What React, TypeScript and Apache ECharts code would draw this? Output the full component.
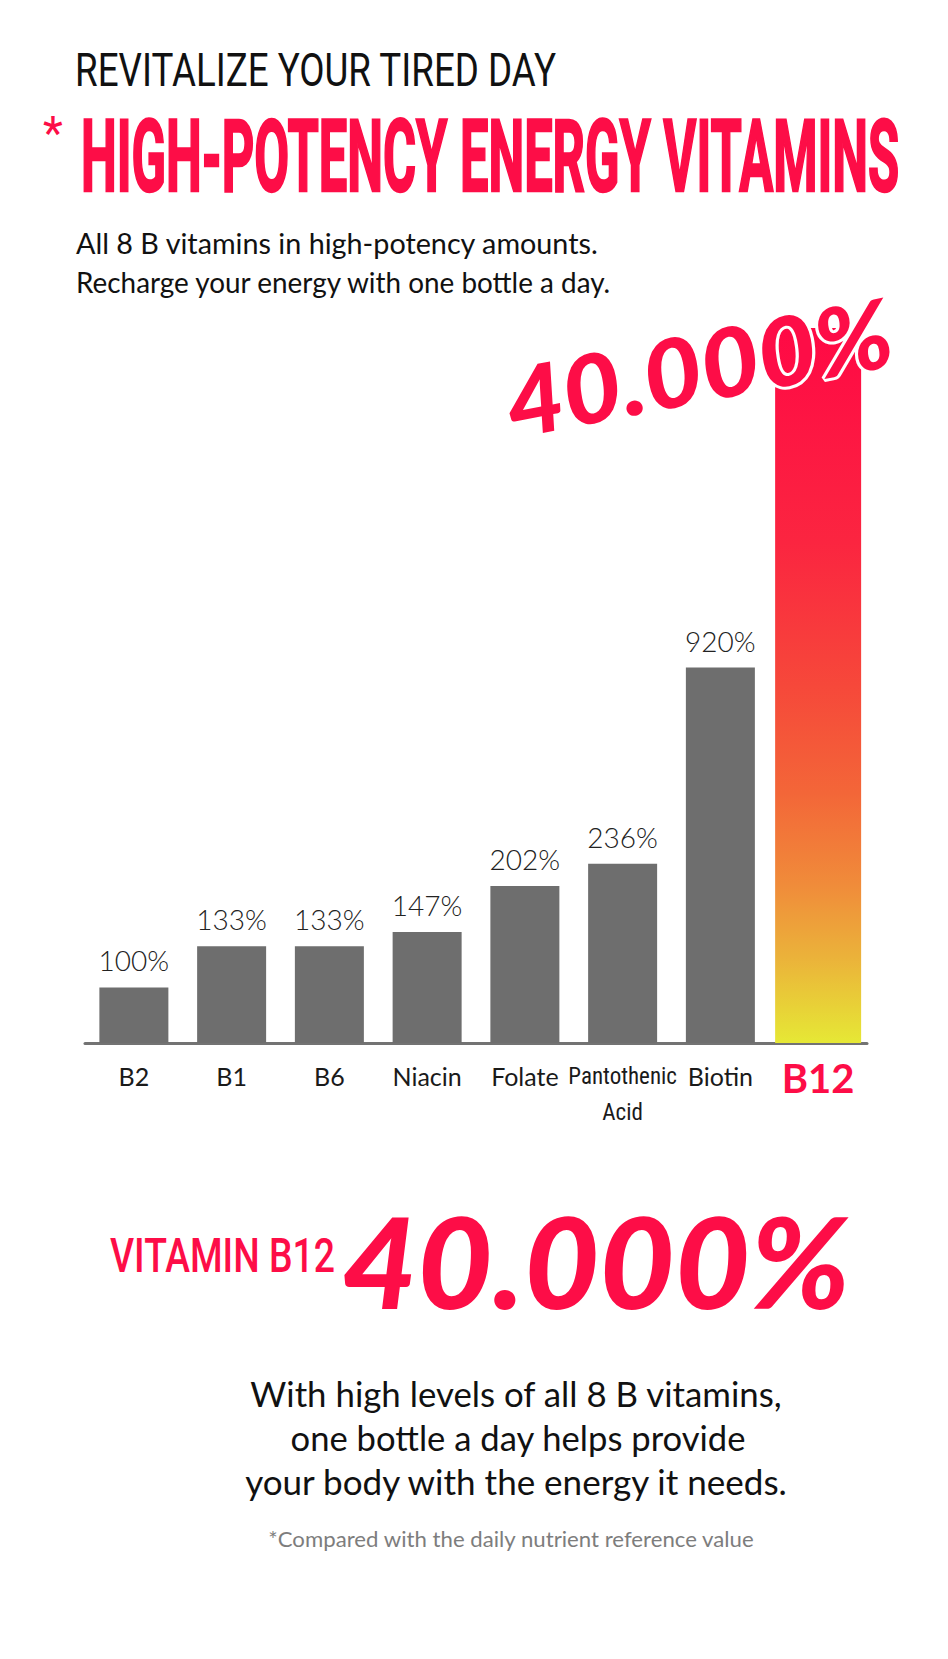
import React, { useEffect, useRef } from 'react';
import * as echarts from 'echarts';

// ---------- data ----------
const categories = ['B2', 'B1', 'B6', 'Niacin', 'Folate', 'Pantothenic\nAcid', 'Biotin', 'B12'];
const percentValues = [100, 133, 133, 147, 202, 236, 920, 40000];
const highlightCategory = 'B12';
const headline = 'REVITALIZE YOUR TIRED DAY';
const titleMark = '*';
const title = 'HIGH-POTENCY ENERGY VITAMINS';
const subtitleLines = ['All 8 B vitamins in high-potency amounts.', 'Recharge your energy with one bottle a day.'];
const bigValueText = '40.000%';
const vitaminLabel = 'VITAMIN B12';
const bodyLines = [
  'With high levels of all 8 B vitamins,',
  'one bottle a day helps provide',
  'your body with the energy it needs.',
];
const footnote = '*Compared with the daily nutrient reference value';

// ---------- styles ----------
const RED = '#fd0d47';
const GRAY_BAR = '#6e6e6e';
const FONT_SANS = 'Lato, "Open Sans", sans-serif';
const FONT_HEAD = 'Roboto, "Liberation Sans", sans-serif';
const FONT_NARROW = '"Liberation Sans Narrow", "Roboto Condensed", "DejaVu Sans Condensed", Lato, sans-serif';

function textWidth(text: string, font: string) {
  const ctx = document.createElement('canvas').getContext('2d') as CanvasRenderingContext2D;
  ctx.font = font;
  return ctx.measureText(text).width;
}

function fitted(o: any) {
  const weight = o.weight || 'normal';
  const fstyle = o.italic ? 'italic' : 'normal';
  const w = textWidth(o.text, `${fstyle} ${weight} ${o.size}px ${o.family}`);
  const sx = o.width ? o.width / w : 1;
  const align = o.align || 'left';
  return {
    type: 'text',
    x: o.x,
    y: o.y,
    rotation: o.rotation || 0,
    scaleX: sx,
    scaleY: 1,
    z: 100,
    style: {
      text: o.text,
      fill: o.color,
      fontSize: o.size,
      fontFamily: o.family,
      fontWeight: weight,
      fontStyle: fstyle,
      align,
      textAlign: align,
      verticalAlign: 'middle',
      textVerticalAlign: 'middle',
      stroke: o.stroke,
      lineWidth: o.lineWidth || 0,
    },
  };
}

export default function App() {
  const ref = useRef<HTMLDivElement>(null);

  useEffect(() => {
    document.body.style.margin = '0';
    if (!ref.current) return;
    const chart = echarts.init(ref.current, undefined, { renderer: 'svg' });

    const grayData = percentValues.map((v, i) => (categories[i] === highlightCategory ? '-' : v));
    const highlightData = percentValues.map((v, i) => (categories[i] === highlightCategory ? v : '-'));

    const graphics: any[] = [
      fitted({ text: headline, x: 75, y: 70, size: 46, weight: 'normal', family: FONT_HEAD, color: '#111', width: 482 }),
      fitted({ text: titleMark, x: 53, y: 133, size: 46, weight: 'normal', family: FONT_HEAD, color: RED, align: 'center' }),
      fitted({ text: title, x: 81, y: 156, size: 101, weight: 'bold', family: FONT_HEAD, color: RED, width: 818, stroke: RED, lineWidth: 2.5 }),
      fitted({ text: subtitleLines[0], x: 76, y: 243, size: 28, family: FONT_SANS, color: '#111', width: 523 }),
      fitted({ text: subtitleLines[1], x: 76, y: 282, size: 28, family: FONT_SANS, color: '#111', width: 537 }),
      fitted({
        text: bigValueText, x: 698, y: 366, size: 95, weight: 900, italic: true, family: FONT_SANS,
        color: RED, align: 'center', width: 392, rotation: 0.19, stroke: '#fff', lineWidth: 6,
      }),
      fitted({ text: vitaminLabel, x: 110, y: 1256, size: 49, weight: 500, family: FONT_HEAD, color: RED, width: 225 }),
      fitted({ text: bigValueText, x: 596, y: 1260, size: 126, weight: 900, italic: true, family: FONT_SANS, color: RED, align: 'center', width: 508 }),
      fitted({ text: bodyLines[0], x: 516, y: 1393, size: 35, family: FONT_SANS, color: '#111', align: 'center', width: 533 }),
      fitted({ text: bodyLines[1], x: 518, y: 1437, size: 35, family: FONT_SANS, color: '#111', align: 'center', width: 456 }),
      fitted({ text: bodyLines[2], x: 516, y: 1481, size: 35, family: FONT_SANS, color: '#111', align: 'center', width: 545 }),
      fitted({ text: footnote, x: 511, y: 1539, size: 21, family: FONT_SANS, color: '#7d7d7d', align: 'center', width: 487 }),
    ];

    chart.setOption({
      animation: false,
      backgroundColor: '#ffffff',
      grid: { left: 85, right: 81, top: 328, bottom: 616, containLabel: false },
      xAxis: [
        {
          type: 'category',
          data: categories,
          axisLine: { show: true, onZero: false, lineStyle: { color: '#737373', width: 3 } },
          axisTick: { show: false },
          splitLine: { show: false },
          axisLabel: {
            interval: 0,
            margin: 15,
            formatter: (v: string) => {
              if (v === highlightCategory) return `{h|${v}}`;
              if (v.indexOf('\n') >= 0) return v.split('\n').map((p) => `{s|${p}}`).join('\n');
              return `{n|${v}}`;
            },
            rich: {
              n: { fontSize: 25, fontFamily: FONT_SANS, color: '#1a1a1a', lineHeight: 36 },
              s: { fontSize: 23, fontFamily: FONT_NARROW, color: '#1a1a1a', lineHeight: 36 },
              h: { fontSize: 40, fontFamily: FONT_SANS, fontWeight: 'bold', color: RED, lineHeight: 40 },
            },
          },
        },
        { type: 'category', data: categories, show: false },
      ],
      yAxis: { type: 'log', logBase: 10, min: 68, max: 9700, show: false, splitLine: { show: false } },
      series: [
        {
          type: 'bar',
          xAxisIndex: 0,
          data: grayData,
          barWidth: 69,
          clip: true,
          itemStyle: { color: GRAY_BAR },
          label: {
            show: true,
            position: 'top',
            distance: 13,
            formatter: '{c}%',
            fontFamily: FONT_SANS,
            fontWeight: 300,
            fontSize: 28,
            color: '#222',
          },
        },
        {
          type: 'bar',
          xAxisIndex: 1,
          data: highlightData,
          barWidth: 86,
          clip: true,
          itemStyle: {
            color: new echarts.graphic.LinearGradient(0, 0, 0, 1, [
              { offset: 0, color: '#ff0945' },
              { offset: 0.3, color: '#fb2540' },
              { offset: 0.5, color: '#f6483a' },
              { offset: 0.65, color: '#f36638' },
              { offset: 0.78, color: '#f08c3a' },
              { offset: 0.88, color: '#ebb23a' },
              { offset: 1, color: '#e6e835' },
            ]),
          },
        },
      ],
      graphic: graphics,
    });

    return () => chart.dispose();
  }, []);

  return <div ref={ref} style={{ width: 948, height: 1659 }} />;
}
